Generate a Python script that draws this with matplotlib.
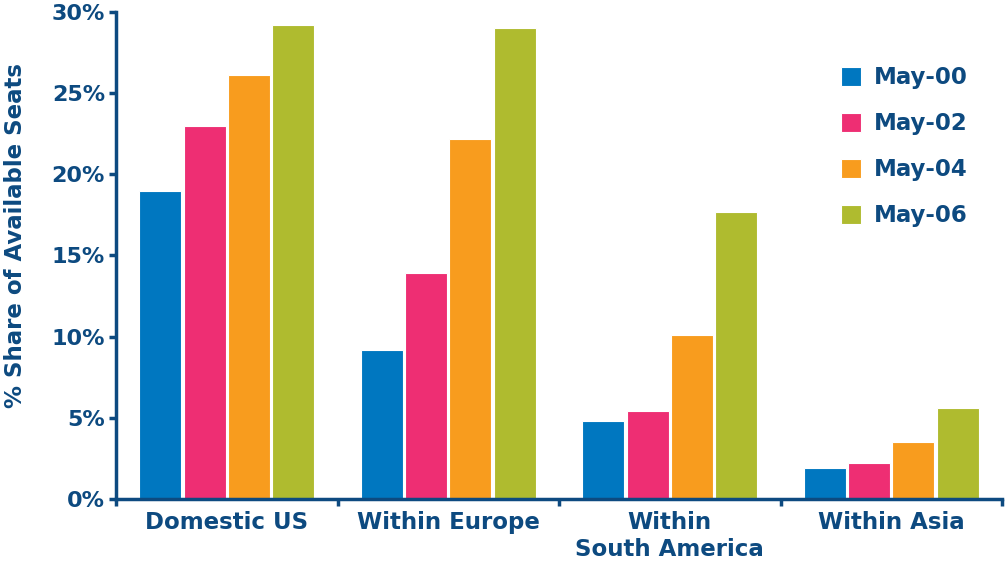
import numpy as np
import matplotlib.pyplot as plt
from matplotlib.ticker import FixedLocator, PercentFormatter

categories = ['Domestic US', 'Within Europe', 'Within\nSouth America', 'Within Asia']
periods = ['May-00', 'May-02', 'May-04', 'May-06']
may00 = [19.0, 9.2, 4.8, 1.9]
may02 = [23.0, 13.9, 5.4, 2.2]
may04 = [26.1, 22.2, 10.1, 3.5]
may06 = [29.2, 29.0, 17.7, 5.6]
series = [may00, may02, may04, may06]
colors = ['#0077c0', '#ee2e73', '#f89c1e', '#afbb2f']

navy = '#0d4a80'
plt.rcParams['font.family'] = ['DejaVu Sans']
plt.rcParams['font.weight'] = 'bold'

fig = plt.figure(figsize=(10.08, 5.71), dpi=100)
ax = fig.add_axes([0.1151, 0.1261, 0.879, 0.853])

x = np.arange(len(categories))
step = 0.2
for i, (vals, c, lab) in enumerate(zip(series, colors, periods)):
    ax.bar(x + (i - 1.5) * step, vals, width=0.19, color=c,
           edgecolor='white', linewidth=0.8, label=lab, zorder=2)

ax.set_xlim(-0.5, len(categories) - 0.5)
ax.set_ylim(0, 30)
ax.set_yticks(np.arange(0, 31, 5))
ax.yaxis.set_major_formatter(PercentFormatter(decimals=0))

# boundaries as major ticks, labels on minor ticks at the centres
ax.xaxis.set_major_locator(FixedLocator(np.arange(-0.5, len(categories), 1.0)))
ax.xaxis.set_major_formatter(plt.NullFormatter())
ax.xaxis.set_minor_locator(FixedLocator(x))
ax.set_xticklabels(categories, minor=True)
ax.tick_params(axis='x', which='minor', length=0, pad=9, labelsize=16.5, labelcolor=navy)
ax.tick_params(axis='x', which='major', length=5, width=2.5, color=navy)
ax.tick_params(axis='y', length=5, width=2.5, color=navy, pad=3,
               labelsize=16, labelcolor=navy)

for s in ['top', 'right']:
    ax.spines[s].set_visible(False)
for s in ['left', 'bottom']:
    ax.spines[s].set_color(navy)
    ax.spines[s].set_linewidth(2.5)
    ax.spines[s].set_zorder(3)

ax.set_ylabel('% Share of Available Seats', fontsize=16.5, fontweight='bold', color=navy)
ax.yaxis.set_label_coords(-0.1, 0.54)

leg = ax.legend(loc='upper left', bbox_to_anchor=(0.805, 0.912), frameon=False,
                fontsize=16.5, handlelength=0.9, handleheight=0.9,
                handletextpad=0.55, labelspacing=1.0, borderpad=0)
for t in leg.get_texts():
    t.set_color(navy)

fig.savefig('out.png', dpi=100)
